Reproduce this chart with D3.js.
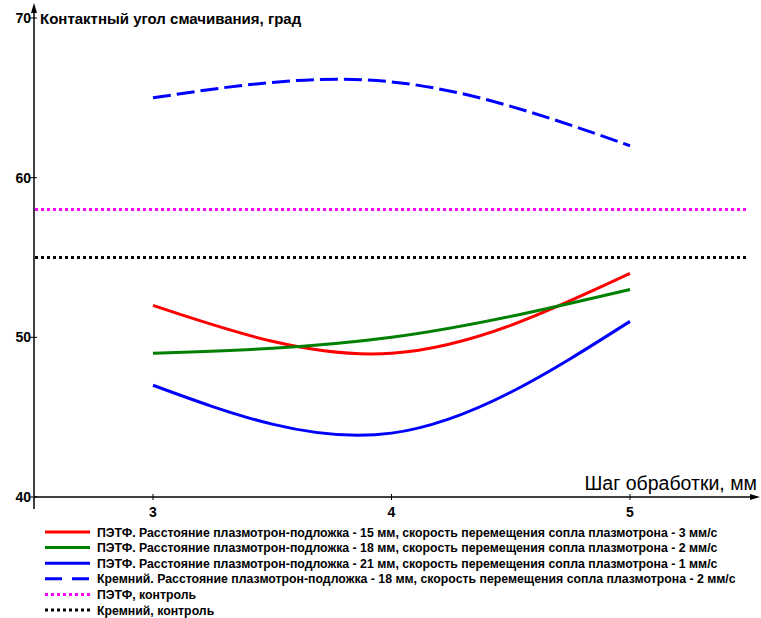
<!DOCTYPE html>
<html>
<head>
<meta charset="utf-8">
<script src="https://cdn.jsdelivr.net/npm/d3@7"></script>
<style>
    body { margin: 0; background: #fff; }
    text { font-family: "Liberation Sans", Arial, sans-serif; }
</style>
</head>
<body>
<svg id="chart" width="761" height="618"></svg>
<script>
// данные графика
let steps = [3, 4, 5];
let petf15 = [52, 49, 54];
let petf18 = [49, 50, 53];
let petf21 = [47, 44, 51];
let silicon18 = [65, 66, 62];
let petfControl = 58;
let siliconControl = 55;
let yTicks = [40, 50, 60, 70];
let xTicks = [3, 4, 5];

let seriesNames = [
    'ПЭТФ. Расстояние плазмотрон-подложка - 15 мм, скорость перемещения сопла плазмотрона - 3 мм/с',
    'ПЭТФ. Расстояние плазмотрон-подложка - 18 мм, скорость перемещения сопла плазмотрона - 2 мм/с',
    'ПЭТФ. Расстояние плазмотрон-подложка - 21 мм, скорость перемещения сопла плазмотрона - 1 мм/с',
    'Кремний. Расстояние плазмотрон-подложка - 18 мм, скорость перемещения сопла плазмотрона - 2 мм/с',
    'ПЭТФ, контроль',
    'Кремний, контроль'
];

let svg = d3.select('#chart');

let x = d3.scaleLinear().domain([3, 5]).range([153, 630]);
let y = d3.scaleLinear().domain([40, 70]).range([497, 18]);
let axisX = 34;

// оси
svg.append('line')
    .attr('x1', axisX).attr('x2', axisX)
    .attr('y1', 6).attr('y2', 509)
    .attr('stroke', '#000').attr('stroke-width', 1.5);
svg.append('path')
    .attr('d', 'M' + axisX + ',3 L' + (axisX - 3) + ',13 L' + (axisX + 3) + ',13 Z')
    .attr('fill', '#000');

svg.append('line')
    .attr('x1', axisX).attr('x2', 756)
    .attr('y1', y(40)).attr('y2', y(40))
    .attr('stroke', '#000').attr('stroke-width', 1.5);
svg.append('path')
    .attr('d', 'M760,' + y(40) + ' L750,' + (y(40) - 3) + ' L750,' + (y(40) + 3) + ' Z')
    .attr('fill', '#000');

// деления оси Y
yTicks.forEach(function (t) {
    svg.append('line')
        .attr('x1', axisX - 4).attr('x2', axisX + 3)
        .attr('y1', y(t)).attr('y2', y(t))
        .attr('stroke', '#000').attr('stroke-width', 1);
    svg.append('text')
        .attr('x', axisX - 3)
        .attr('y', y(t) + 5)
        .attr('text-anchor', 'end')
        .style('font-size', '14px')
        .style('font-weight', 'bold')
        .text(t);
});

// деления оси X
xTicks.forEach(function (t) {
    svg.append('line')
        .attr('x1', x(t)).attr('x2', x(t))
        .attr('y1', y(40) - 3).attr('y2', y(40) + 3)
        .attr('stroke', '#000').attr('stroke-width', 1);
    svg.append('text')
        .attr('x', x(t))
        .attr('y', 517)
        .attr('text-anchor', 'middle')
        .style('font-size', '14px')
        .style('font-weight', 'bold')
        .text(t);
});

// подписи осей
svg.append('text')
    .attr('x', 40).attr('y', 24)
    .style('font-size', '15px')
    .style('font-weight', 'bold')
    .text('Контактный угол смачивания, град');

svg.append('text')
    .attr('x', 757).attr('y', 490)
    .attr('text-anchor', 'end')
    .style('font-size', '19.5px')
    .text('Шаг обработки, мм');

// линии контроля
let controls = [
    {v: petfControl, color: '#ff00ff'},
    {v: siliconControl, color: '#000000'}
];
controls.forEach(function (c) {
    svg.append('line')
        .attr('x1', axisX + 1).attr('x2', 747)
        .attr('y1', y(c.v)).attr('y2', y(c.v))
        .attr('stroke', c.color)
        .attr('stroke-width', 3)
        .attr('stroke-dasharray', '3,3');
});

// кривые
let line = d3.line()
    .x((d, i) => x(steps[i]))
    .y(d => y(d))
    .curve(d3.curveNatural);

let series = [
    {values: petf15, color: '#ff0000', dash: null},
    {values: petf18, color: '#008000', dash: null},
    {values: petf21, color: '#0000ff', dash: null},
    {values: silicon18, color: '#0000ff', dash: '18,6'}
];

series.forEach(function (s) {
    svg.append('path')
        .attr('d', line(s.values))
        .attr('fill', 'none')
        .attr('stroke', s.color)
        .attr('stroke-width', 3)
        .attr('stroke-dasharray', s.dash);
});

// легенда
let legendStyles = [
    {color: '#ff0000', dash: null},
    {color: '#008000', dash: null},
    {color: '#0000ff', dash: null},
    {color: '#0000ff', dash: '17,10'},
    {color: '#ff00ff', dash: '3,3'},
    {color: '#000000', dash: '3,3'}
];

let legend = svg.append('g').attr('transform', 'translate(0,0)');
seriesNames.forEach(function (name, i) {
    let ly = 532 + i * 15.6;
    legend.append('line')
        .attr('x1', 45).attr('x2', 90)
        .attr('y1', ly).attr('y2', ly)
        .attr('stroke', legendStyles[i].color)
        .attr('stroke-width', 3)
        .attr('stroke-dasharray', legendStyles[i].dash);
    legend.append('text')
        .attr('x', 97).attr('y', ly + 4.5)
        .style('font-size', '12.3px')
        .style('font-weight', 'bold')
        .text(name);
});
</script>
</body>
</html>
